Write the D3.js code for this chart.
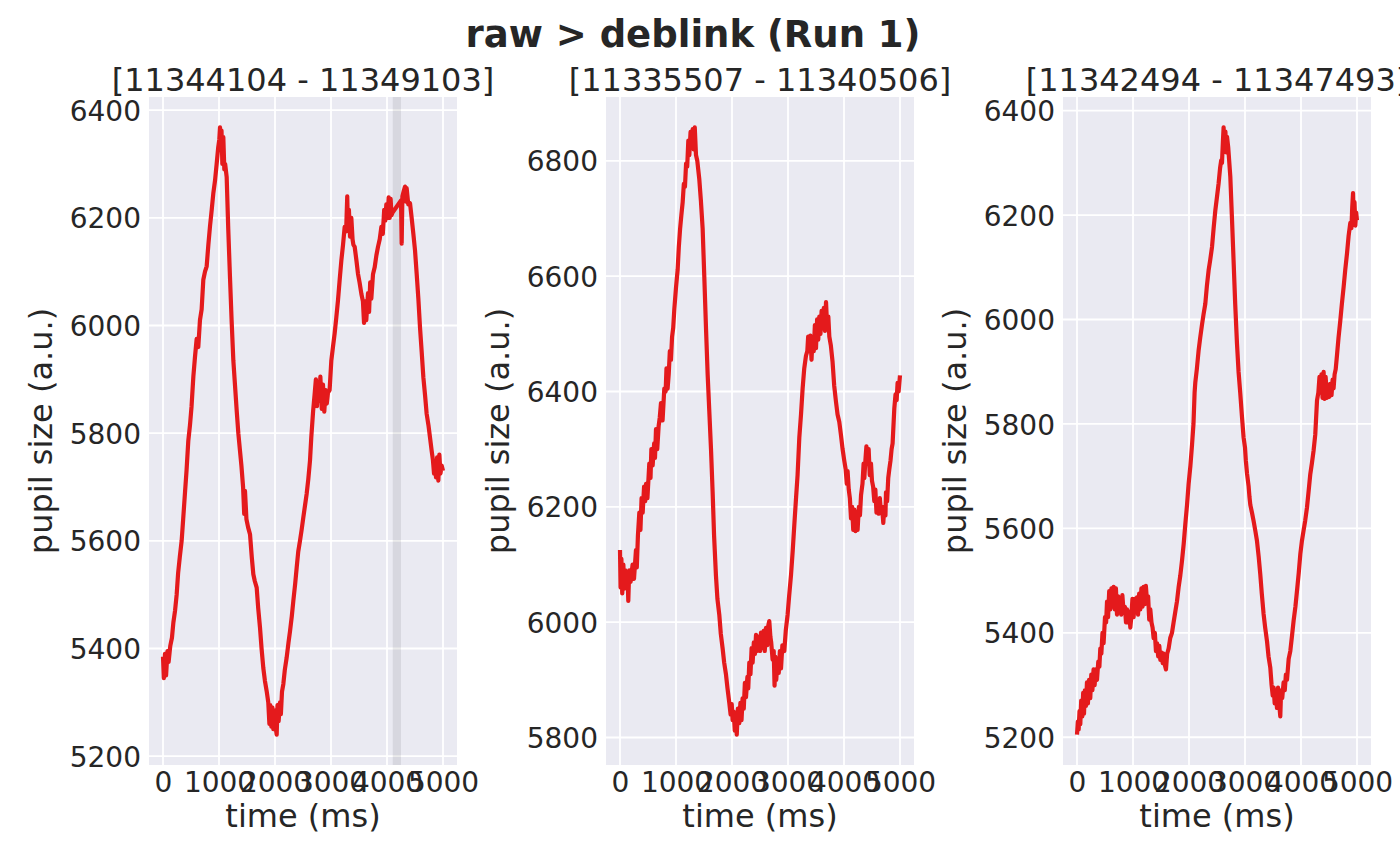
<!DOCTYPE html>
<html>
<head>
<meta charset="utf-8">
<script src="https://cdn.jsdelivr.net/npm/d3@7"></script>
<style>
  body { margin: 0; background: #ffffff; }
  text { font-family: "DejaVu Sans", sans-serif; fill: #262626; }
</style>
</head>
<body>
<div id="chart"></div>
<script>
// Figure title and per-trial titles
var figTitle = "raw > deblink (Run 1)";
var trialTitles = ["[11344104 - 11349103]", "[11335507 - 11340506]", "[11342494 - 11347493]"];

// Pupil traces, [time (ms), pupil size (a.u.)]
var trace1 = [[0,5385],[15,5345],[35,5390],[55,5350],[80,5395],[100,5375],[130,5405],[160,5420],[185,5448],[215,5470],
  [244,5500],[270,5540],[300,5570],[333,5600],[360,5640],[393,5690],[420,5730],[452,5786],[482,5815],[510,5850],
  [542,5905],[570,5940],[601,5975],[630,5960],[660,6010],[690,6030],[720,6085],[750,6100],[780,6110],[810,6150],
  [840,6185],[870,6215],[898,6245],[930,6270],[958,6300],[985,6330],[1005,6345],[1018,6368],[1030,6330],[1045,6362],
  [1060,6300],[1077,6350],[1095,6290],[1110,6300],[1137,6276],[1165,6180],[1196,6090],[1225,6010],[1256,5935],[1285,5890],
  [1316,5842],[1345,5800],[1375,5767],[1400,5740],[1430,5700],[1450,5650],[1464,5693],[1490,5640],[1520,5625],[1554,5612],
  [1585,5570],[1613,5538],[1640,5525],[1673,5513],[1700,5475],[1732,5439],[1760,5400],[1791,5364],[1820,5340],[1851,5321],
  [1880,5300],[1900,5260],[1915,5295],[1935,5255],[1955,5290],[1970,5250],[1990,5285],[2010,5255],[2030,5240],[2045,5295],
  [2065,5265],[2089,5300],[2105,5278],[2125,5320],[2149,5334],[2175,5360],[2208,5383],[2240,5410],[2268,5432],[2300,5460],
  [2327,5488],[2360,5520],[2387,5550],[2415,5580],[2446,5600],[2475,5620],[2505,5643],[2535,5665],[2565,5687],[2595,5715],
  [2625,5749],[2648,5792],[2680,5840],[2708,5873],[2730,5900],[2750,5850],[2768,5895],[2790,5860],[2810,5905],[2835,5845],
  [2857,5890],[2880,5840],[2905,5880],[2925,5855],[2946,5875],[2975,5880],[3006,5935],[3035,5960],[3065,5985],[3095,6015],
  [3125,6047],[3155,6085],[3185,6121],[3215,6150],[3244,6183],[3270,6175],[3290,6240],[3304,6175],[3320,6215],[3340,6165],
  [3363,6200],[3385,6160],[3400,6150],[3423,6146],[3455,6120],[3482,6096],[3510,6080],[3542,6059],[3570,6045],[3590,6005],
  [3610,6045],[3630,6010],[3661,6060],[3680,6025],[3700,6080],[3720,6050],[3750,6095],[3780,6108],[3810,6130],[3839,6146],
  [3870,6160],[3899,6183],[3925,6170],[3950,6215],[3970,6195],[3988,6225],[4010,6200],[4030,6238],[4048,6200],[4065,6235],
  [4080,6205],[4100,6210],[4250,6232],[4262,6152],[4275,6240],[4300,6250],[4322,6258],[4340,6230],[4351,6255],[4380,6225],
  [4411,6227],[4440,6200],[4470,6171],[4500,6140],[4530,6096],[4560,6050],[4589,5997],[4620,5950],[4649,5904],[4680,5870],
  [4708,5836],[4740,5815],[4768,5792],[4798,5767],[4820,5750],[4840,5725],[4857,5745],[4875,5718],[4895,5755],[4917,5712],
  [4935,5760],[4955,5725],[4976,5740],[5000,5730]];

var trace2 = [[0,6125],[10,6060],[25,6110],[40,6050],[60,6100],[77,6058],[95,6090],[115,6060],[135,6085],[148,6037],
  [165,6090],[190,6070],[225,6100],[250,6075],[285,6125],[300,6095],[320,6150],[345,6190],[365,6160],[385,6215],
  [405,6190],[430,6235],[450,6210],[465,6240],[490,6215],[523,6275],[545,6250],[560,6300],[583,6272],[610,6310],
  [625,6285],[643,6335],[665,6300],[690,6340],[710,6355],[732,6380],[760,6350],[791,6405],[815,6400],[830,6440],
  [850,6405],[870,6430],[890,6470],[910,6455],[930,6495],[950,6510],[970,6543],[1000,6580],[1030,6612],[1050,6650],
  [1073,6682],[1095,6705],[1119,6728],[1140,6760],[1160,6755],[1180,6795],[1200,6790],[1220,6835],[1238,6810],[1260,6850],
  [1280,6825],[1298,6855],[1315,6820],[1335,6858],[1357,6810],[1380,6800],[1416,6768],[1445,6730],[1476,6682],[1505,6600],
  [1536,6509],[1565,6430],[1595,6365],[1625,6300],[1654,6226],[1680,6150],[1714,6080],[1740,6040],[1773,6013],[1800,5980],
  [1832,5955],[1860,5930],[1893,5909],[1920,5885],[1952,5860],[1975,5840],[1995,5858],[2011,5830],[2030,5845],[2050,5812],
  [2071,5840],[2085,5805],[2105,5850],[2130,5825],[2150,5860],[2170,5830],[2189,5868],[2210,5850],[2230,5895],[2250,5870],
  [2275,5905],[2290,5885],[2309,5930],[2330,5910],[2350,5955],[2368,5930],[2390,5965],[2410,5945],[2429,5978],[2450,5950],
  [2475,5975],[2500,5950],[2518,5982],[2540,5955],[2565,5985],[2585,5950],[2607,5990],[2630,5960],[2650,5995],[2666,6002],
  [2685,5975],[2700,5965],[2725,5935],[2745,5950],[2760,5890],[2775,5940],[2790,5900],[2814,5935],[2835,5912],[2855,5950],
  [2875,5920],[2900,5960],[2934,5950],[2960,5985],[2993,6013],[3020,6045],[3054,6082],[3085,6125],[3113,6169],[3140,6210],
  [3171,6255],[3202,6320],[3232,6360],[3261,6405],[3290,6440],[3321,6462],[3345,6470],[3360,6495],[3380,6470],[3400,6497],
  [3420,6455],[3439,6495],[3460,6470],[3480,6515],[3500,6475],[3520,6525],[3540,6490],[3559,6530],[3580,6500],[3600,6540],
  [3618,6510],[3640,6545],[3660,6505],[3679,6555],[3700,6510],[3720,6530],[3738,6495],[3765,6480],[3796,6451],[3825,6410],
  [3857,6382],[3885,6360],[3916,6347],[3945,6325],[3975,6300],[4005,6280],[4030,6265],[4050,6240],[4064,6262],[4085,6230],
  [4105,6215],[4125,6180],[4145,6200],[4165,6160],[4184,6195],[4205,6158],[4225,6190],[4243,6160],[4265,6200],[4285,6185],
  [4304,6220],[4330,6240],[4350,6275],[4363,6250],[4385,6285],[4400,6305],[4421,6280],[4440,6300],[4460,6255],[4482,6275],
  [4500,6245],[4520,6235],[4541,6210],[4560,6230],[4580,6190],[4600,6212],[4620,6188],[4640,6215],[4661,6190],[4680,6200],
  [4702,6172],[4720,6200],[4740,6185],[4750,6225],[4770,6210],[4790,6250],[4809,6265],[4830,6280],[4850,6300],[4868,6310],
  [4898,6370],[4920,6395],[4940,6385],[4957,6415],[4975,6400],[5000,6428]];

var trace3 = [[0,5205],[15,5230],[30,5215],[45,5250],[59,5225],[75,5270],[95,5240],[110,5285],[125,5245],[140,5290],
  [160,5260],[178,5305],[195,5265],[215,5310],[237,5275],[255,5320],[275,5290],[296,5330],[315,5300],[335,5330],
  [357,5310],[380,5345],[400,5335],[416,5370],[435,5360],[455,5400],[475,5380],[500,5430],[520,5420],[536,5460],
  [555,5430],[575,5480],[595,5445],[615,5485],[635,5450],[654,5488],[675,5445],[695,5485],[714,5435],[735,5470],
  [755,5440],[773,5465],[790,5435],[810,5472],[832,5440],[855,5450],[875,5420],[893,5445],[915,5420],[935,5440],
  [952,5410],[970,5430],[990,5465],[1011,5430],[1030,5465],[1050,5440],[1071,5468],[1090,5435],[1110,5475],[1130,5445],
  [1150,5485],[1170,5450],[1189,5488],[1210,5455],[1230,5490],[1250,5460],[1270,5470],[1290,5425],[1309,5445],[1330,5420],
  [1350,5410],[1368,5390],[1390,5400],[1410,5365],[1429,5380],[1450,5355],[1470,5375],[1488,5348],[1510,5362],[1530,5342],
  [1546,5360],[1565,5340],[1589,5330],[1610,5360],[1636,5370],[1665,5390],[1696,5400],[1725,5420],[1755,5440],[1785,5460],
  [1814,5487],[1845,5510],[1875,5538],[1905,5570],[1934,5608],[1965,5645],[1993,5685],[2025,5720],[2054,5760],[2080,5800],
  [2100,5860],[2113,5880],[2140,5905],[2171,5940],[2200,5965],[2232,5990],[2260,6010],[2291,6030],[2320,6065],[2350,6094],
  [2380,6115],[2411,6139],[2440,6175],[2470,6209],[2500,6235],[2529,6261],[2555,6290],[2575,6305],[2589,6300],[2605,6340],
  [2618,6368],[2635,6325],[2650,6360],[2665,6320],[2679,6350],[2700,6330],[2738,6273],[2765,6200],[2796,6113],[2825,6030],
  [2857,5954],[2885,5900],[2916,5858],[2945,5815],[2975,5774],[3000,5755],[3015,5730],[3036,5705],[3065,5680],[3080,5660],
  [3095,5645],[3125,5630],[3154,5614],[3185,5595],[3214,5576],[3245,5545],[3273,5512],[3300,5475],[3332,5436],[3360,5410],
  [3393,5384],[3420,5355],[3452,5333],[3475,5300],[3495,5280],[3511,5295],[3530,5265],[3550,5290],[3571,5256],[3590,5295],
  [3610,5265],[3630,5240],[3645,5290],[3665,5275],[3689,5305],[3710,5290],[3730,5320],[3750,5310],[3780,5350],[3809,5365],
  [3840,5395],[3868,5423],[3900,5450],[3929,5481],[3960,5515],[3988,5551],[4015,5575],[4046,5596],[4075,5615],[4107,5640],
  [4135,5670],[4166,5704],[4195,5725],[4225,5749],[4255,5780],[4286,5845],[4310,5860],[4330,5890],[4345,5860],[4365,5895],
  [4385,5850],[4404,5900],[4420,5848],[4440,5890],[4464,5850],[4485,5875],[4505,5852],[4523,5877],[4545,5855],[4565,5885],
  [4582,5868],[4600,5895],[4620,5905],[4643,5932],[4670,5965],[4702,5998],[4730,6030],[4761,6062],[4790,6095],[4821,6126],
  [4850,6160],[4880,6185],[4900,6175],[4915,6215],[4929,6242],[4940,6195],[4955,6225],[4970,6180],[4985,6205],[5000,6190]];

var traces = [trace1, trace2, trace3];

// Blink (interpolated) spans per trial, [start, end] in ms
var blinkSpans = [[[4102, 4250]], [], []];

// Tick values
var xTickValues = [0, 1000, 2000, 3000, 4000, 5000];
var yTickStep = 200;

var svgWidth = 1400;
var svgHeight = 866;

var axTop = 97;
var axBottom = 765;
var axWidth = 308;
var axLefts = [149, 606, 1063];

var lineColor = "#e41a1c";

var svg = d3.select("#chart")
  .append("svg")
  .attr("width", svgWidth)
  .attr("height", svgHeight);

svg.append("text")
  .attr("x", 693)
  .attr("y", 47)
  .attr("text-anchor", "middle")
  .style("font-size", "37px")
  .style("font-weight", "bold")
  .text(figTitle);

traces.forEach(function(trace, i) {
  var left = axLefts[i];

  // matplotlib-style 5% padding around the data
  var xScale = d3.scaleLinear()
    .domain([-250, 5250])
    .range([left, left + axWidth]);

  var yMin = d3.min(trace, d => d[1]);
  var yMax = d3.max(trace, d => d[1]);
  var pad = (yMax - yMin) * 0.05;
  var yScale = d3.scaleLinear()
    .domain([yMin - pad, yMax + pad])
    .range([axBottom, axTop]);

  var yTickValues = d3.range(Math.ceil((yMin - pad) / yTickStep) * yTickStep, yMax + pad, yTickStep);

  var g = svg.append("g");

  // axes background
  g.append("rect")
    .attr("x", left)
    .attr("y", axTop)
    .attr("width", axWidth)
    .attr("height", axBottom - axTop)
    .attr("fill", "#eaeaf2");

  // grid
  g.selectAll(".xgrid")
    .data(xTickValues)
    .enter()
    .append("line")
    .attr("x1", d => xScale(d))
    .attr("x2", d => xScale(d))
    .attr("y1", axTop)
    .attr("y2", axBottom)
    .attr("stroke", "#ffffff")
    .attr("stroke-width", 1.8);

  g.selectAll(".ygrid")
    .data(yTickValues)
    .enter()
    .append("line")
    .attr("x1", left)
    .attr("x2", left + axWidth)
    .attr("y1", d => yScale(d))
    .attr("y2", d => yScale(d))
    .attr("stroke", "#ffffff")
    .attr("stroke-width", 1.8);

  // blink spans
  g.selectAll(".blink")
    .data(blinkSpans[i])
    .enter()
    .append("rect")
    .attr("x", d => xScale(d[0]))
    .attr("width", d => xScale(d[1]) - xScale(d[0]))
    .attr("y", axTop)
    .attr("height", axBottom - axTop)
    .attr("fill", "#000000")
    .attr("fill-opacity", 0.08);

  // trace
  var line = d3.line()
    .x(d => xScale(d[0]))
    .y(d => yScale(d[1]));

  g.append("path")
    .datum(trace)
    .attr("d", line)
    .attr("fill", "none")
    .attr("stroke", lineColor)
    .attr("stroke-width", 4.2)
    .attr("stroke-linejoin", "round");

  // axes without domain lines or ticks (darkgrid look)
  var bottomAxis = d3.axisBottom(xScale)
    .tickValues(xTickValues)
    .tickSize(0)
    .tickPadding(0)
    .tickFormat(d3.format("d"));

  var xAxis = g.append("g")
    .attr("transform", `translate(0, ${axBottom})`)
    .call(bottomAxis);
  xAxis.select(".domain").remove();
  xAxis.selectAll("text")
    .attr("y", 27)
    .attr("dy", null)
    .style("font-size", "28px")
    .style("font-family", "DejaVu Sans")
    .attr("fill", "#262626");

  var leftAxis = d3.axisLeft(yScale)
    .tickValues(yTickValues)
    .tickSize(0)
    .tickPadding(8)
    .tickFormat(d3.format("d"));

  var yAxis = g.append("g")
    .attr("transform", `translate(${left}, 0)`)
    .call(leftAxis);
  yAxis.select(".domain").remove();
  yAxis.selectAll("text")
    .attr("dy", "0.36em")
    .style("font-size", "28px")
    .style("font-family", "DejaVu Sans")
    .attr("fill", "#262626");

  // labels
  g.append("text")
    .attr("x", left + axWidth / 2)
    .attr("y", 827)
    .attr("text-anchor", "middle")
    .style("font-size", "32px")
    .text("time (ms)");

  g.append("text")
    .attr("transform", `translate(${left - 97}, ${(axTop + axBottom) / 2}) rotate(-90)`)
    .attr("text-anchor", "middle")
    .style("font-size", "32px")
    .text("pupil size (a.u.)");

  g.append("text")
    .attr("x", left + axWidth / 2)
    .attr("y", 91)
    .attr("text-anchor", "middle")
    .style("font-size", "32px")
    .text(trialTitles[i]);
});
</script>
</body>
</html>
